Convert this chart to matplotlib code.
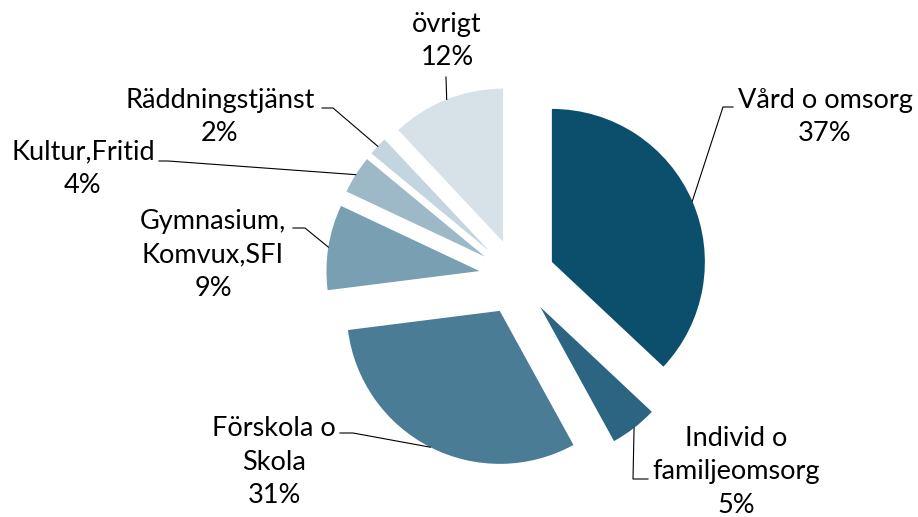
import numpy as np
import matplotlib.pyplot as plt

# data
categories = ['Vård o omsorg', 'Individ o\nfamiljeomsorg', 'Förskola o\nSkola',
              'Gymnasium,\nKomvux,SFI', 'Kultur,Fritid', 'Räddningstjänst', 'övrigt']
shares = [37, 5, 31, 9, 4, 2, 12]
colors = ['#0B4F6C', '#2B6582', '#4A7C96', '#789FB2', '#9DB8C6', '#C3D5DE', '#D7E2E8']

W, H = 918, 517
# label layout in screen pixels (y down): text centre, leader elbow, leader tail
label_pos = [(825, 117), (736, 472), (274, 462), (213, 255), (83, 169), (220, 117), (447, 41)]
elbows = [(723, 107), (633, 479), (353, 433), (305, 228), (168, 161), (333, 108), (446, 77)]
tails = [(733, 107), (648, 479), (340, 433), (293, 228), (159, 161), (322, 108), (446, 77)]

fig = plt.figure(figsize=(W / 100, H / 100), dpi=100)
ax = fig.add_axes([0, 0, 1, 1])

center = (517, H - 277)
radius = 153
wedges, _ = ax.pie(shares, colors=colors, startangle=90, counterclock=False,
                   center=center, radius=radius, explode=[38] * len(shares),
                   wedgeprops=dict(linewidth=0))
ax.set_xlim(0, W)
ax.set_ylim(0, H)
ax.set_aspect('equal')
ax.axis('off')

for w, cat, val, pos, elb, tail in zip(wedges, categories, shares, label_pos, elbows, tails):
    # leader line starts at the middle of the wedge's arc
    mid = np.deg2rad((w.theta1 + w.theta2) / 2)
    cx, cy = w.center
    px, py = cx + w.r * np.cos(mid), cy + w.r * np.sin(mid)
    ax.plot([px, elb[0], tail[0]], [py, H - elb[1], H - tail[1]], color='black', lw=0.8)
    ax.text(pos[0], H - pos[1], f'{cat}\n{val}%', ha='center', va='center',
            multialignment='center', fontsize=19.5, family='Lato', linespacing=1.42)

plt.savefig('out.png', dpi=100)
